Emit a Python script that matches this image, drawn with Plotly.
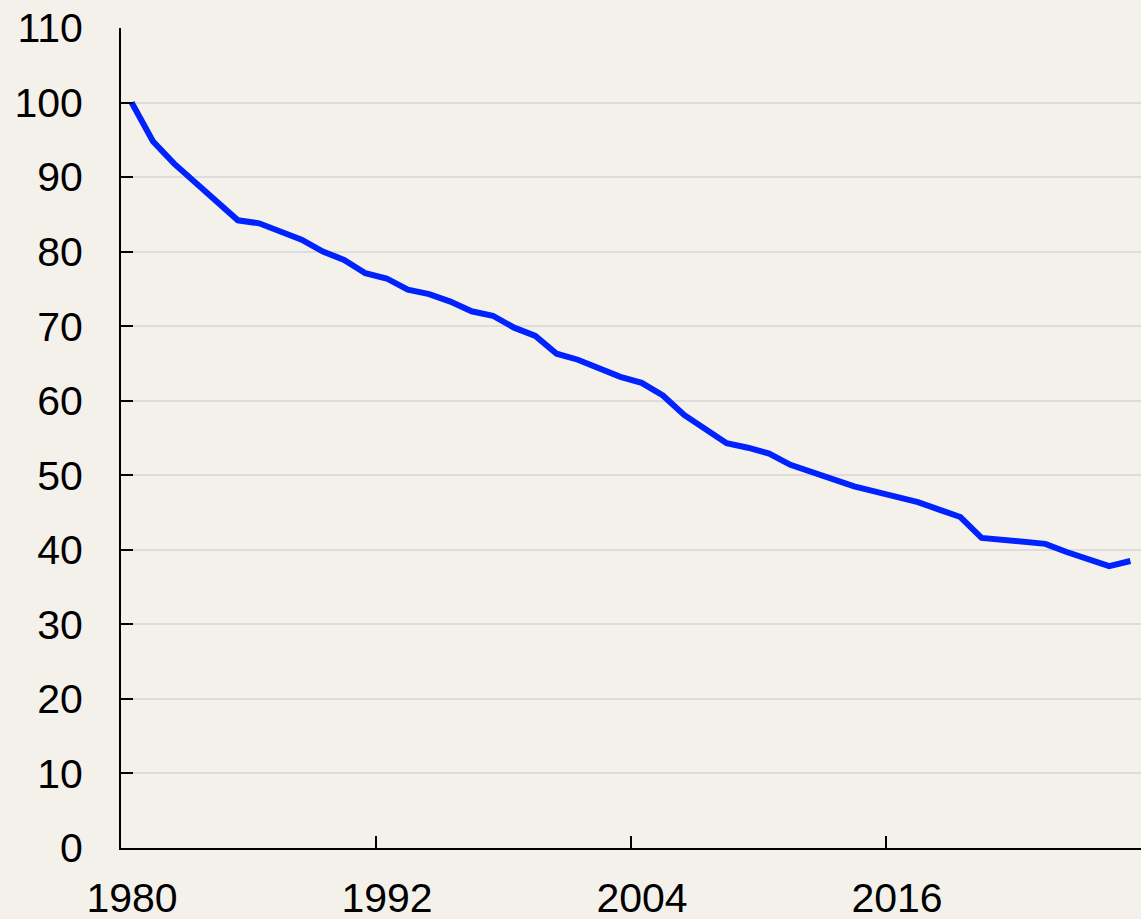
import plotly.graph_objects as go

years = list(range(1980, 2028))
values = [100, 94.8, 91.8, 89.3, 86.7, 84.2, 83.8, 82.7, 81.6, 80.0,
          78.9, 77.1, 76.4, 74.9, 74.3, 73.3, 72.0, 71.4, 69.8, 68.7,
          66.3, 65.5, 64.4, 63.2, 62.4, 60.7, 58.1, 56.1, 54.3, 53.7,
          52.9, 51.4, 50.4, 49.6, 48.5, 47.8, 47.1, 46.4, 45.4, 44.4,
          41.6, 41.3, 41.1, 40.8, 39.7, 38.8, 37.8, 38.5]
x_tick_labels = ["1980", "1992", "2004", "2016"]
x_tick_years = [1980, 1992, 2004, 2016]
y_ticks = list(range(0, 111, 10))

bg = "#f4f1eb"
fig = go.Figure()
fig.add_trace(go.Scatter(x=years, y=values, mode="lines",
                         line=dict(color="#0022ff", width=6),
                         hoverinfo="skip"))
fig.update_layout(
    width=1141, height=919,
    margin=dict(l=121, r=0, t=28, b=71),
    paper_bgcolor=bg, plot_bgcolor=bg,
    showlegend=False,
    font=dict(family="Liberation Sans, Arial, sans-serif", size=41, color="#000000"),
)
# ticks sit on the year boundaries; labels are centred on the year itself
fig.update_xaxes(
    range=[1979.5, 2027.5], automargin=False,
    tickmode="array", tickvals=[y - 0.5 for y in x_tick_years], ticktext=x_tick_labels,
    tickangle=0, ticklabelshift=11,
    ticks="inside", ticklen=12, tickwidth=2, tickcolor="#000000",
    showgrid=False, showline=True, linecolor="#000000", linewidth=2,
    ticklabelstandoff=13, zeroline=False,
)
fig.update_yaxes(
    range=[0, 110], automargin=False, tickmode="array", tickvals=y_ticks,
    ticks="inside", ticklen=12, tickwidth=2, tickcolor="#000000",
    showgrid=True, gridcolor="#dcdcdc", gridwidth=2,
    showline=True, linecolor="#000000", linewidth=2,
    zeroline=False, ticklabelstandoff=28,
)
fig.write_html(
    "out.html",
    config={"displayModeBar": False},
    post_script="document.body.style.margin='0';document.body.style.overflow='hidden';",
)
